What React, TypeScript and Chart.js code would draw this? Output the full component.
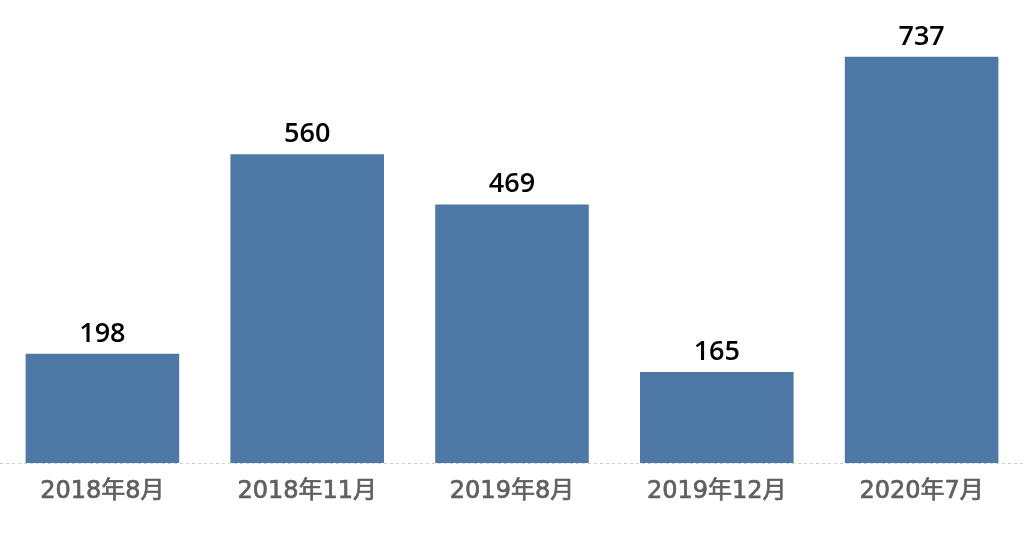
import React, { useEffect, useRef } from "react";
import { Chart, registerables } from "chart.js";

Chart.register(...registerables);

const categories = ["2018年8月", "2018年11月", "2019年8月", "2019年12月", "2020年7月"];
const values = [198, 560, 469, 165, 737];

const TICK_FONT = '"DejaVu Sans", "Noto Sans CJK SC", sans-serif';
const VALUE_FONT = '"Open Sans", "Noto Sans CJK SC", sans-serif';

const valueLabels = {
  id: "valueLabels",
  afterDatasetsDraw(chart: any) {
    const { ctx } = chart;
    const meta = chart.getDatasetMeta(0);
    ctx.save();
    ctx.font = `600 27px ${VALUE_FONT}`;
    ctx.fillStyle = "#000";
    ctx.textAlign = "center";
    ctx.textBaseline = "alphabetic";
    meta.data.forEach((bar: any, i: number) => {
      ctx.fillText(String(values[i]), bar.x, bar.y - 12);
    });
    ctx.restore();
  },
};

const dashedBase = {
  id: "dashedBase",
  beforeDatasetsDraw(chart: any) {
    const { ctx, chartArea } = chart;
    ctx.save();
    ctx.strokeStyle = "#cfcfcf";
    ctx.lineWidth = 1;
    ctx.setLineDash([3, 3]);
    ctx.beginPath();
    ctx.moveTo(0, chartArea.bottom + 0.5);
    ctx.lineTo(chart.width, chartArea.bottom + 0.5);
    ctx.stroke();
    ctx.restore();
  },
};

export default function App() {
  const ref = useRef<HTMLCanvasElement>(null);
  useEffect(() => {
    if (!ref.current) return;
    const chart = new Chart(ref.current, {
      type: "bar",
      data: {
        labels: categories,
        datasets: [
          {
            data: values,
            backgroundColor: "#4e79a7",
            barPercentage: 0.75,
            categoryPercentage: 1,
          },
        ],
      },
      options: {
        animation: false,
        responsive: false,
        maintainAspectRatio: false,
        layout: { padding: 0 },
        plugins: { legend: { display: false }, tooltip: { enabled: false } },
        scales: {
          x: {
            grid: { display: false },
            border: { display: false },
            ticks: {
              color: "#5f5f5f",
              textStrokeColor: "#5f5f5f",
              textStrokeWidth: 0.7,
              font: { family: TICK_FONT, size: 24, weight: "normal" as any },
              padding: 6,
              maxRotation: 0,
            },
            afterFit(scale: any) {
              scale.height = 83;
            },
          },
          y: {
            display: false,
            min: 0,
            max: 840,
          },
        },
      },
      plugins: [dashedBase, valueLabels],
    });
    return () => chart.destroy();
  }, []);
  return (
    <div style={{ position: "fixed", left: 0, top: 0, width: 1024, height: 546, background: "#fff" }}>
      <canvas ref={ref} width={1024} height={546} style={{ width: 1024, height: 546 }} />
    </div>
  );
}
